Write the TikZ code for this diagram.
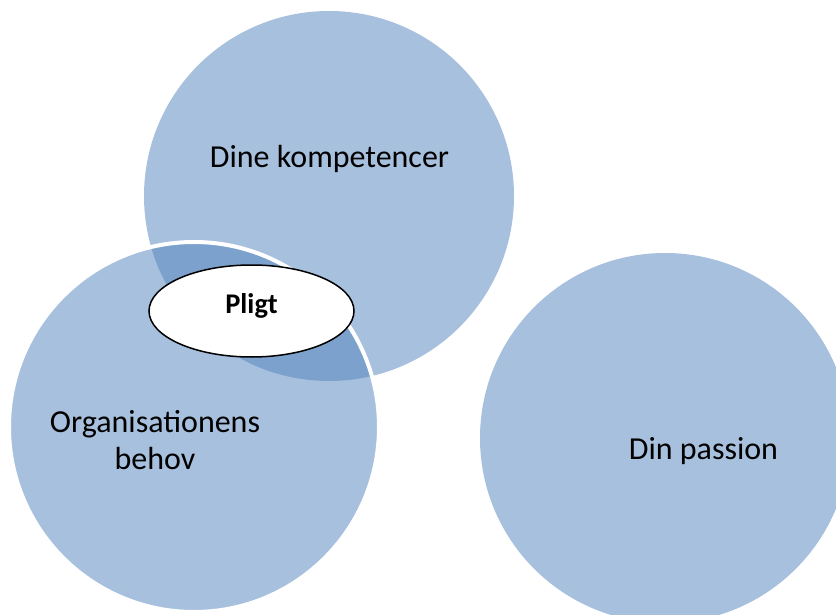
\documentclass[tikz,border=0pt]{standalone}
\usepackage{fontspec}
\setmainfont{Carlito}
\usetikzlibrary{shapes.geometric}
\definecolor{vennlight}{RGB}{167,192,222}
\definecolor{venndark}{RGB}{123,161,204}
\tikzset{
  venn/.style={circle, fill=vennlight, draw=none, minimum size=370pt, inner sep=0pt},
  lbl/.style={inner sep=0pt, anchor=base, font=\fontsize{32}{37}\selectfont, text=black},
  pligtbox/.style={ellipse, draw=black, line width=1.5pt, fill=white, minimum width=205pt, minimum height=92pt, inner sep=0pt, font=\bfseries\fontsize{28.5}{33}\selectfont, text height=19.6pt, text depth=15.6pt}
}
\begin{document}
\begin{tikzpicture}[x=1pt,y=-1pt]
\useasboundingbox (0,0) rectangle (836,615);
\node[venn] (komp) at (329,196) {};
\node[venn] (org) at (194,427) {};
\begin{scope}
  \clip (komp.center) circle (185pt);
  \fill[venndark] (org.center) circle (185pt);
\end{scope}
\draw[white, line width=4pt] (org.center) circle (185pt);
\node[venn] (pas) at (665,438) {};
\node[pligtbox] (pligt) at (251.5,311) {Pligt};
\node[lbl] (kompt) at (329.5,168) {Dine kompetencer};
\node[lbl, anchor=center, align=center] (orgt) at (155,440) {Organisationens\\behov};
\node[lbl] (past) at (703.5,459) {Din passion};
\end{tikzpicture}
\end{document}
